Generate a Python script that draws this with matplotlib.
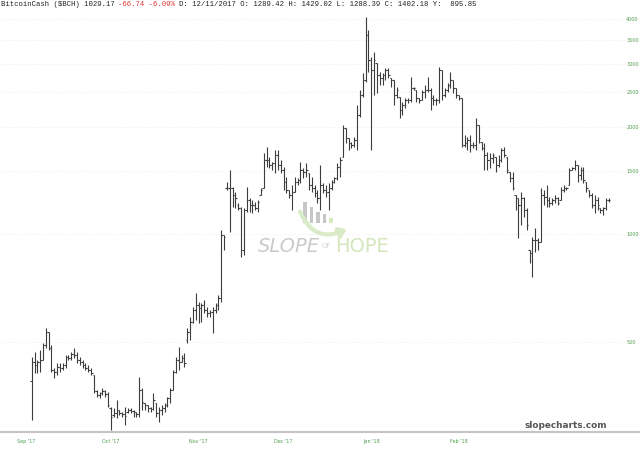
import matplotlib
matplotlib.use("Agg")
import matplotlib.pyplot as plt
import matplotlib.dates as mdates
import pandas as pd
from matplotlib.patches import Rectangle, FancyArrowPatch
from matplotlib.ticker import NullLocator, NullFormatter

# daily OHLC for Bitcoin Cash (log scale)
opens = [388, 438, 430, 438, 444, 489, 532, 479, 416, 411, 424, 421, 430, 452, 449, 461, 458, 444, 438, 430,
         421, 416, 403, 363, 354, 359, 363, 356, 326, 311, 315, 321, 315, 313, 317, 321, 319, 317, 313, 366,
         336, 332, 326, 323, 336, 315, 321, 326, 332, 347, 366, 411, 444, 438, 449, 505, 532, 567, 613, 633,
         620, 633, 613, 601, 605, 613, 633, 662, 994, 1345, 1345, 1345, 1286, 1206, 1183, 902, 1168, 1245, 1206, 1206,
         1183, 1286, 1345, 1612, 1612, 1561, 1581, 1665, 1561, 1511, 1398, 1328, 1286, 1311, 1398, 1417, 1511, 1492, 1482, 1372,
         1345, 1303, 1262, 1372, 1328, 1311, 1345, 1398, 1435, 1541, 1644, 1981, 1857, 1799, 1776, 1834, 2154, 2451, 2700, 3609,
         3072, 2880, 3013, 2789, 2735, 2789, 2880, 2735, 2700, 2451, 2420, 2225, 2299, 2374, 2374, 2565, 2532, 2404, 2374, 2499,
         2532, 2532, 2404, 2374, 2374, 2880, 2451, 2532, 2615, 2700, 2565, 2451, 2404, 1776, 1799, 1834, 1776, 1776, 2020, 1810,
         1742, 1665, 1612, 1633, 1644, 1561, 1612, 1719, 1644, 1492, 1435, 1286, 1262, 1206, 1262, 1168, 902, 885, 962, 962,
         950, 1286, 1270, 1245, 1221, 1245, 1262, 1245, 1328, 1345, 1372, 1511, 1531, 1561, 1463, 1511, 1398, 1328, 1286, 1206,
         1245, 1183, 1168, 1183, 1245]
highs = [452, 467, 444, 473, 495, 545, 532, 489, 421, 435, 435, 435, 458, 458, 467, 479, 467, 452, 444, 435,
         430, 421, 403, 366, 361, 370, 366, 361, 328, 326, 343, 321, 317, 328, 326, 326, 321, 317, 398, 370,
         336, 332, 328, 359, 336, 328, 332, 336, 350, 370, 416, 452, 483, 458, 464, 545, 586, 624, 683, 645,
         641, 653, 624, 613, 624, 641, 675, 1026, 994, 1398, 1511, 1354, 1311, 1221, 1190, 1183, 1354, 1262, 1245, 1229,
         1245, 1345, 1686, 1753, 1644, 1591, 1719, 1719, 1612, 1541, 1444, 1328, 1372, 1444, 1435, 1591, 1531, 1581, 1482, 1444,
         1372, 1328, 1561, 1389, 1372, 1389, 1417, 1444, 1581, 1644, 2020, 1981, 1857, 1810, 1870, 2299, 2532, 2825, 4054, 3727,
         3132, 3234, 3013, 2843, 2825, 2917, 2917, 2735, 2700, 2581, 2420, 2343, 2404, 2404, 2753, 2581, 2532, 2404, 2532, 2615,
         2753, 2565, 2451, 2404, 2936, 2880, 2565, 2648, 2843, 2700, 2565, 2451, 2404, 1894, 1870, 1894, 1810, 2113, 2020, 1810,
         1799, 1697, 1686, 1686, 1644, 1665, 1742, 1753, 1644, 1492, 1492, 1286, 1262, 1311, 1270, 1183, 902, 981, 1040, 975,
         1345, 1328, 1372, 1270, 1262, 1286, 1270, 1354, 1372, 1354, 1531, 1541, 1612, 1561, 1541, 1541, 1398, 1328, 1303, 1286,
         1270, 1183, 1190, 1262, 1262]
lows = [301, 408, 408, 411, 444, 479, 473, 411, 395, 403, 411, 416, 421, 444, 444, 449, 435, 430, 421, 416,
        411, 403, 359, 350, 347, 354, 350, 328, 283, 307, 305, 311, 307, 292, 315, 315, 307, 307, 307, 321,
        321, 317, 317, 321, 307, 297, 311, 317, 328, 336, 366, 408, 416, 438, 424, 495, 505, 563, 574, 563,
        567, 601, 586, 586, 528, 601, 613, 645, 902, 1328, 1013, 1190, 1183, 1168, 862, 873, 1153, 1153, 1145, 1168,
        1153, 1286, 1345, 1541, 1531, 1511, 1482, 1511, 1482, 1328, 1303, 1262, 1168, 1311, 1372, 1389, 1435, 1444, 1328, 1311,
        1270, 1221, 1168, 1303, 1270, 1168, 1328, 1389, 1417, 1444, 1644, 1799, 1719, 1742, 1753, 1719, 2127, 2420, 2666, 2843,
        1719, 2451, 2483, 2615, 2615, 2700, 2735, 2581, 2299, 2404, 2113, 2154, 2254, 2328, 2343, 2532, 2343, 2328, 2374, 2404,
        2499, 2225, 2299, 2299, 2328, 2374, 2420, 2499, 2565, 2483, 2404, 2374, 1753, 1753, 1719, 1697, 1742, 1719, 1799, 1719,
        1511, 1511, 1531, 1581, 1492, 1541, 1591, 1644, 1482, 1398, 1328, 1168, 975, 1060, 1116, 1026, 829, 758, 890, 902,
        950, 1206, 1190, 1190, 1206, 1221, 1206, 1245, 1311, 1328, 1372, 1511, 1511, 1398, 1417, 1389, 1311, 1270, 1183, 1145,
        1168, 1145, 1131, 1168, 1229]
closes = [438, 430, 438, 444, 489, 532, 479, 416, 411, 424, 421, 430, 452, 449, 461, 458, 444, 438, 430, 421,
          416, 408, 363, 354, 359, 363, 356, 332, 307, 315, 321, 315, 313, 309, 321, 319, 317, 313, 366, 338,
          332, 326, 323, 343, 315, 321, 326, 332, 347, 366, 411, 444, 438, 449, 435, 532, 567, 613, 633, 620,
          633, 613, 601, 605, 613, 633, 662, 994, 981, 1345, 1345, 1286, 1262, 1183, 902, 1168, 1245, 1206, 1206, 1183,
          1229, 1328, 1612, 1612, 1561, 1581, 1665, 1561, 1511, 1398, 1328, 1286, 1311, 1398, 1417, 1511, 1492, 1511, 1372, 1345,
          1303, 1262, 1372, 1328, 1311, 1345, 1398, 1435, 1541, 1612, 1981, 1857, 1799, 1776, 1834, 2154, 2451, 2700, 3609, 3072,
          2880, 3072, 2789, 2735, 2789, 2880, 2789, 2700, 2451, 2532, 2225, 2299, 2374, 2374, 2565, 2565, 2404, 2374, 2499, 2532,
          2532, 2404, 2374, 2374, 2880, 2451, 2532, 2615, 2700, 2565, 2451, 2404, 1776, 1799, 1834, 1776, 1776, 2020, 1857, 1742,
          1665, 1612, 1633, 1665, 1561, 1612, 1719, 1665, 1511, 1435, 1345, 1262, 1206, 1262, 1168, 1060, 885, 962, 962, 950,
          1286, 1270, 1245, 1221, 1245, 1262, 1221, 1328, 1345, 1345, 1511, 1531, 1561, 1463, 1511, 1417, 1345, 1286, 1206, 1245,
          1206, 1168, 1183, 1245, 1245]

dates = pd.date_range("2017-09-03", periods=len(closes), freq="D")
month_starts = pd.date_range("2017-09-01", "2018-02-01", freq="MS")
month_labels = ["Sep '17", "Oct '17", "Nov '17", "Dec '17", "Jan '18", "Feb '18"]
price_ticks = [500, 1000, 1500, 2000, 2500, 3000, 3500, 4000]

# header pieces: (text, colour)
header = [("BitcoinCash ($BCH) 1029.17", "#222222"),
          ("-66.74 -6.09%", "#e03434"),
          ("D: 12/11/2017 O: 1289.42 H: 1429.02 L: 1288.39 C: 1402.18 Y:  895.85", "#222222")]

green = "#4f9f4f"
bar_col = "#3c3c3c"

fig = plt.figure(figsize=(6.4, 4.51), dpi=100)

# watermark layer (pixel coordinates)
deco = fig.add_axes([0, 0, 1, 1])
deco.set_xlim(0, 640)
deco.set_ylim(451, 0)
deco.axis("off")
deco.set_zorder(0)
for bx, top, c in [(303, 202, "#c6c6c6"), (309.5, 207, "#c6c6c6"), (316, 212, "#c6c6c6"),
                   (322.5, 214, "#c6c6c6"), (329, 218, "#d6e8c0")]:
    deco.add_patch(Rectangle((bx, top), 3.6, 223 - top, color=c, lw=0))
deco.add_patch(FancyArrowPatch((299, 209), (349, 228), connectionstyle="arc3,rad=0.55",
                               arrowstyle="-|>,head_length=4,head_width=3", color="#d9eac6", lw=3))
deco.text(258, 246, "SLOPE", fontsize=14, color="#cacaca", style="italic", va="center", ha="left")
deco.text(322, 246, "OF", fontsize=5, color="#d6d6d6", va="center", ha="left")
deco.text(335, 246, "HOPE", fontsize=14, color="#d3e6bb", va="center", ha="left")

# header line, monospace so pieces are laid out by character count
char_w = 0.6 * 5.2 * 100 / 72
pos = 0
for txt, col in header:
    deco.text(1 + pos * char_w, 5, txt, family="Liberation Mono", fontsize=5.2,
              color=col, va="center", ha="left")
    pos += len(txt) + 1

deco.text(607, 425, "slopecharts.com", fontsize=6.4, fontweight="bold",
          color="#555555", ha="right", va="center")

ax = fig.add_axes([0, 19 / 451, 1, 418 / 451])
ax.set_zorder(1)
ax.patch.set_alpha(0)

x = mdates.date2num(dates)
ax.vlines(x, lows, highs, color=bar_col, lw=0.8)
ax.hlines(opens, x - 0.5, x, color=bar_col, lw=0.8)
ax.hlines(closes, x, x + 0.5, color=bar_col, lw=0.8)

ax.set_yscale("log")
ax.set_ylim(279, 4132)
ax.set_xlim(x[0] - 11.2, x[0] + 215.0)

ax.yaxis.tick_right()
ax.set_yticks(price_ticks)
ax.set_yticklabels([str(p) for p in price_ticks])
ax.yaxis.set_minor_locator(NullLocator())
ax.yaxis.set_minor_formatter(NullFormatter())
ax.tick_params(axis="y", length=0, pad=-10, labelsize=3.5, labelcolor=green)
ax.grid(axis="y", color="#f6e6e6", lw=0.5, ls=":")

ax.set_xticks(mdates.date2num(month_starts))
ax.set_xticklabels(month_labels)
ax.tick_params(axis="x", length=0, pad=5, labelsize=3.5, labelcolor=green)

for s in ["top", "left", "right"]:
    ax.spines[s].set_visible(False)
ax.spines["bottom"].set_color("#c4c4c4")
ax.spines["bottom"].set_linewidth(1.5)

fig.savefig("out.png", dpi=100)
